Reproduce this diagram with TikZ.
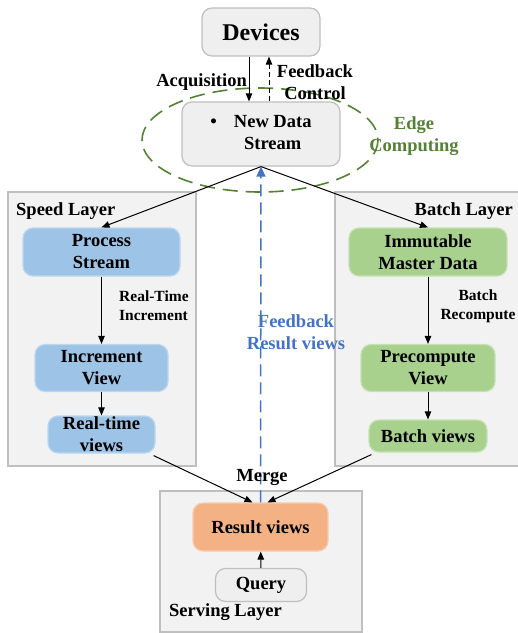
\documentclass[tikz,border=0pt]{standalone}
\usepackage{fontspec}
\setmainfont{Liberation Serif}
\usetikzlibrary{arrows.meta,shapes.geometric}
\definecolor{boxgray}{HTML}{EFEFEF}
\definecolor{boxgrayline}{HTML}{BFBFBF}
\definecolor{panelfill}{HTML}{F2F2F2}
\definecolor{panelline}{HTML}{BFBFBF}
\definecolor{speedfill}{HTML}{9DC3E6}
\definecolor{speedline}{HTML}{BDD7EE}
\definecolor{batchfill}{HTML}{A9D18E}
\definecolor{batchline}{HTML}{C5E0B4}
\definecolor{resultfill}{HTML}{F4B183}
\definecolor{resultline}{HTML}{F8CBAD}
\definecolor{edgegreen}{HTML}{548235}
\definecolor{fbblue}{HTML}{4472C4}
\tikzset{
  txt/.style={font=\fontsize{18.5}{22}\selectfont\bfseries, align=center, inner sep=0pt},
  small/.style={font=\fontsize{15.5}{19}\selectfont\bfseries, inner sep=0pt},
  box/.style={txt, rounded corners=10pt, line width=1.2pt},
  graybox/.style={box, fill=boxgray, draw=boxgrayline},
  speedbox/.style={box, fill=speedfill, draw=speedline},
  batchbox/.style={box, fill=batchfill, draw=batchline},
  resbox/.style={box, fill=resultfill, draw=resultline},
  panel/.style={fill=panelfill, draw=panelline, line width=1.5pt},
  arr/.style={-{Triangle[length=8pt,width=6.5pt]}, line width=1pt, black},
}
\begin{document}
\begin{tikzpicture}[x=1pt,y=-1pt]
\useasboundingbox (0,0) rectangle (518,633);

% layer panels
\draw[panel] (8,192) rectangle (196,466);
\draw[panel] (335,192) rectangle (524,466);
\draw[panel] (160,491) rectangle (362,632);
\node[txt, anchor=west] (speedlbl) at (16,211) {Speed Layer};
\node[txt, anchor=east] (batchlbl) at (513,211) {Batch Layer};
\node[txt, anchor=west] (servlbl) at (169,612) {Serving Layer};

% edge computing region
\draw[edgegreen, line width=1.6pt, dash pattern=on 15pt off 8pt]
  (260,140) ellipse [x radius=118, y radius=52];
\node[txt, text=edgegreen] (edgelbl) at (414,136) {Edge\\Computing};

% source side
\node[graybox, minimum width=118pt, minimum height=48pt,
      font=\fontsize{24}{28}\selectfont\bfseries] (dev) at (261,32) {Devices};
\node[graybox, minimum width=158pt, minimum height=64pt] (nds) at (261,134)
  {\begin{tabular}{@{}c@{\hspace{17pt}}c@{}}\textbullet & New Data\\ & Stream\end{tabular}};
\draw[arr] ([xshift=-12pt]dev.south) -- ([xshift=-12pt]nds.north);
\draw[arr, dash pattern=on 5pt off 3pt] ([xshift=8pt]nds.north) -- ([xshift=8pt]dev.south);
\node[txt, anchor=east] (acq) at (247,82) {Acquisition};
\node[txt] (fbc) at (315,82) {Feedback\\Control};

% speed layer
\node[speedbox, minimum width=157pt, minimum height=48pt] (ps) at (101.5,252) {Process\\Stream};
\node[speedbox, minimum width=133pt, minimum height=47pt] (iv) at (101.5,368) {Increment\\View};
\node[speedbox, minimum width=107pt, minimum height=37pt] (rtv) at (101.5,434.5) {Real-time\\views};
\draw[arr] (ps) -- (iv);
\draw[arr] (iv) -- (rtv);
\node[small, anchor=west, align=left] (rti) at (119,306) {Real-Time\\Increment};

% batch layer
\node[batchbox, minimum width=158pt, minimum height=48pt] (imd) at (428,252) {Immutable\\Master Data};
\node[batchbox, minimum width=134pt, minimum height=47pt] (pcv) at (428,368) {Precompute\\View};
\node[batchbox, minimum width=118pt, minimum height=32pt] (bv) at (428,436) {Batch views};
\draw[arr] (imd) -- (pcv);
\draw[arr] (pcv) -- (bv);
\node[small, align=center] (brc) at (478,306) {Batch\\Recompute};

% stream split
\draw[arr] (nds.south) -- (ps.north);
\draw[arr] (nds.south) -- (imd.north);

% serving layer
\node[resbox, minimum width=135pt, minimum height=48pt] (rv) at (260.5,527) {Result views};
\node[graybox, minimum width=91pt, minimum height=33pt] (qry) at (261,585) {Query};
\draw[arr] (qry) -- (rv);

% feedback of result views
\draw[fbblue, line width=1.5pt, dash pattern=on 12pt off 6pt,
      -{Triangle[length=10pt,width=9pt]}] (rv.north) -- (nds.south);
\node[txt, text=fbblue] (fbr) at (296,332) {Feedback\\Result views};

% merge
\node[txt] (mrg) at (262,477) {Merge};
\draw[arr] ([xshift=-2pt,yshift=-2pt]rtv.south east) -- ([xshift=-8pt]rv.north);
\draw[arr] ([xshift=3pt,yshift=-2pt]bv.south west) -- ([xshift=7pt]rv.north);
\end{tikzpicture}
\end{document}
